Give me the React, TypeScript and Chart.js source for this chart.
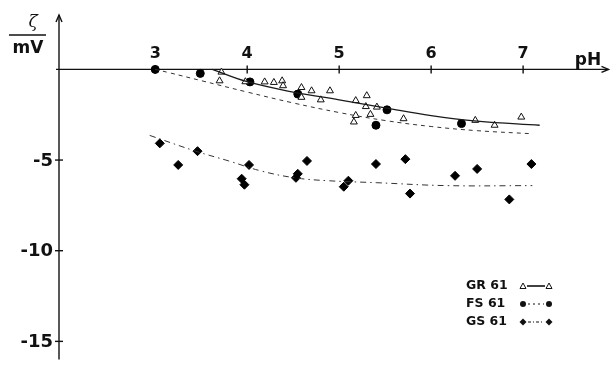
import { useEffect, useRef } from "react";
import { Chart, registerables } from "chart.js";

Chart.register(...registerables);

// GR 61 (open triangles)
const grPH = [3.72, 3.70, 3.98, 4.19, 4.29, 4.38, 4.39, 4.59, 4.59, 4.70, 4.80, 4.90, 5.18, 5.30, 5.29, 5.41, 5.34, 5.18, 5.16, 5.70, 6.48, 6.69, 6.98];
const grZeta = [-0.15, -0.63, -0.68, -0.69, -0.72, -0.63, -0.90, -1.00, -1.54, -1.18, -1.68, -1.18, -1.72, -1.45, -2.05, -2.08, -2.48, -2.54, -2.90, -2.72, -2.81, -3.08, -2.63];
const grCurvePH = [3.62, 4.0, 4.5, 5.0, 5.5, 6.0, 6.5, 7.18];
const grCurveZeta = [0, -0.68, -1.25, -1.68, -2.12, -2.55, -2.85, -3.08];

// FS 61 (filled circles)
const fsPH = [3.0, 3.49, 4.03, 4.55, 5.52, 5.40, 6.33];
const fsZeta = [0, -0.22, -0.69, -1.36, -2.23, -3.08, -2.99];
const fsCurvePH = [3.0, 3.15, 3.5, 4.0, 4.5, 5.0, 5.5, 6.0, 6.5, 7.1];
const fsCurveZeta = [0, -0.18, -0.62, -1.25, -1.85, -2.38, -2.82, -3.15, -3.38, -3.55];

// GS 61 (filled diamonds)
const gsPH = [3.05, 3.25, 3.46, 3.94, 3.97, 4.02, 4.53, 4.55, 4.65, 5.05, 5.10, 5.40, 5.72, 5.77, 6.26, 6.50, 6.85, 7.09];
const gsZeta = [-4.08, -5.27, -4.51, -6.03, -6.36, -5.27, -5.98, -5.76, -5.05, -6.47, -6.14, -5.22, -4.95, -6.85, -5.87, -5.49, -7.17, -5.22];
const gsCurvePH = [2.94, 3.44, 3.8, 4.15, 4.52, 4.88, 5.41, 6.17, 7.1];
const gsCurveZeta = [-3.64, -4.51, -5.05, -5.6, -5.98, -6.14, -6.25, -6.41, -6.41];

const xTicks = [3, 4, 5, 6, 7];
const yTicks = [-5, -10, -15];
const legendLabels = ["GR 61", "FS 61", "GS 61"];

const pts = (xs: number[], ys: number[]) => xs.map((x, i) => ({ x, y: ys[i] }));

const INK = "#111";
const FONT = "'DejaVu Sans', 'Liberation Sans', Arial, sans-serif";

const axesPlugin = {
  id: "customAxes",
  beforeDatasetsDraw(chart: any) {
    const { ctx, scales } = chart;
    const xs = scales.x;
    const ys = scales.y;
    const x0 = xs.left;
    const y0 = ys.getPixelForValue(0);
    ctx.save();
    ctx.strokeStyle = INK;
    ctx.fillStyle = INK;
    ctx.lineWidth = 1.4;
    // y axis
    const yTop = ys.top;
    ctx.beginPath();
    ctx.moveTo(x0, ys.bottom);
    ctx.lineTo(x0, yTop);
    ctx.stroke();
    ctx.beginPath();
    ctx.moveTo(x0 - 3, yTop + 7);
    ctx.lineTo(x0, yTop);
    ctx.lineTo(x0 + 3, yTop + 7);
    ctx.stroke();
    // x axis
    const xRight = xs.right - 2;
    ctx.beginPath();
    ctx.moveTo(x0 - 3, y0);
    ctx.lineTo(xRight, y0);
    ctx.stroke();
    ctx.beginPath();
    ctx.moveTo(xRight - 7, y0 - 3);
    ctx.lineTo(xRight, y0);
    ctx.lineTo(xRight - 7, y0 + 3);
    ctx.stroke();
    // ticks
    xTicks.forEach((t) => {
      const px = xs.getPixelForValue(t);
      ctx.beginPath();
      ctx.moveTo(px, y0 - 4);
      ctx.lineTo(px, y0 + 4);
      ctx.stroke();
    });
    yTicks.forEach((t) => {
      const py = ys.getPixelForValue(t);
      ctx.beginPath();
      ctx.moveTo(x0 - 4, py);
      ctx.lineTo(x0 + 4, py);
      ctx.stroke();
    });
    ctx.restore();
  },
  afterDraw(chart: any) {
    const { ctx, scales } = chart;
    const xs = scales.x;
    const ys = scales.y;
    const x0 = xs.left;
    const y0 = ys.getPixelForValue(0);
    ctx.save();
    ctx.fillStyle = INK;
    ctx.strokeStyle = INK;
    // x tick labels
    ctx.font = `bold 16px ${FONT}`;
    ctx.textAlign = "center";
    ctx.textBaseline = "alphabetic";
    xTicks.forEach((t) => {
      ctx.fillText(String(t), xs.getPixelForValue(t), y0 - 11);
    });
    // pH
    ctx.font = `bold 17px ${FONT}`;
    ctx.textAlign = "center";
    ctx.fillText("pH", 588, y0 - 4);
    // y tick labels
    ctx.font = `bold 18px ${FONT}`;
    ctx.textAlign = "right";
    ctx.textBaseline = "middle";
    yTicks.forEach((t) => {
      ctx.fillText("-" + String(Math.abs(t)), x0 - 6, ys.getPixelForValue(t) + 1);
    });
    // axis title zeta / mV
    ctx.font = `italic 17px 'DejaVu Serif', serif`;
    ctx.textAlign = "center";
    ctx.textBaseline = "alphabetic";
    ctx.fillText("ζ", 33, 27);
    ctx.lineWidth = 1.4;
    ctx.beginPath();
    ctx.moveTo(9, 35);
    ctx.lineTo(46, 35);
    ctx.stroke();
    ctx.font = `bold 17px ${FONT}`;
    ctx.fillText("mV", 28, 53);
    // legend
    const ly = [286, 304, 322];
    ctx.font = `bold 12.5px ${FONT}`;
    ctx.textAlign = "left";
    ctx.textBaseline = "middle";
    legendLabels.forEach((lab, i) => {
      ctx.fillText(lab, 466, ly[i]);
    });
    const lx1 = 523;
    const lx2 = 549;
    // GR
    ctx.setLineDash([]);
    ctx.beginPath();
    ctx.moveTo(lx1 + 4, ly[0]);
    ctx.lineTo(lx2 - 4, ly[0]);
    ctx.lineWidth = 1.6;
    ctx.stroke();
    ctx.lineWidth = 1;
    [lx1, lx2].forEach((cx) => {
      ctx.beginPath();
      ctx.moveTo(cx - 3, ly[0] + 2.5);
      ctx.lineTo(cx + 3, ly[0] + 2.5);
      ctx.lineTo(cx, ly[0] - 3);
      ctx.closePath();
      ctx.fillStyle = "#fff";
      ctx.fill();
      ctx.stroke();
    });
    ctx.fillStyle = INK;
    // FS
    ctx.setLineDash([2, 3]);
    ctx.beginPath();
    ctx.moveTo(lx1 + 5, ly[1]);
    ctx.lineTo(lx2 - 5, ly[1]);
    ctx.stroke();
    ctx.setLineDash([]);
    [lx1, lx2].forEach((cx) => {
      ctx.beginPath();
      ctx.arc(cx, ly[1], 3, 0, Math.PI * 2);
      ctx.fill();
    });
    // GS
    ctx.setLineDash([3, 2, 1, 2]);
    ctx.beginPath();
    ctx.moveTo(lx1 + 5, ly[2]);
    ctx.lineTo(lx2 - 5, ly[2]);
    ctx.stroke();
    ctx.setLineDash([]);
    [lx1, lx2].forEach((cx) => {
      ctx.beginPath();
      ctx.moveTo(cx, ly[2] - 3.5);
      ctx.lineTo(cx + 3.5, ly[2]);
      ctx.lineTo(cx, ly[2] + 3.5);
      ctx.lineTo(cx - 3.5, ly[2]);
      ctx.closePath();
      ctx.fill();
    });
    ctx.restore();
  },
};

export default function App() {
  const ref = useRef<HTMLCanvasElement | null>(null);
  useEffect(() => {
    if (!ref.current) return;
    const chart = new Chart(ref.current, {
      type: "scatter",
      data: {
        datasets: [
          {
            label: "GR curve",
            data: pts(grCurvePH, grCurveZeta),
            showLine: true,
            borderColor: "#1a1a1a",
            borderWidth: 1.3,
            pointRadius: 0,
            tension: 0.4,
            clip: false,
          } as any,
          {
            label: "FS curve",
            data: pts(fsCurvePH, fsCurveZeta),
            showLine: true,
            borderColor: "#333",
            borderWidth: 1,
            borderDash: [4, 4],
            pointRadius: 0,
            tension: 0.4,
            clip: false,
          } as any,
          {
            label: "GS curve",
            data: pts(gsCurvePH, gsCurveZeta),
            showLine: true,
            borderColor: "#333",
            borderWidth: 1,
            borderDash: [6, 4, 1.5, 4],
            pointRadius: 0,
            tension: 0.4,
            clip: false,
          } as any,
          {
            label: "GR 61",
            data: pts(grPH, grZeta),
            pointStyle: "triangle",
            pointRadius: 4,
            backgroundColor: "#fff",
            borderColor: "#111",
            borderWidth: 1,
            clip: false,
          } as any,
          {
            label: "FS 61",
            data: pts(fsPH, fsZeta),
            pointStyle: "circle",
            pointRadius: 4,
            backgroundColor: "#000",
            borderColor: "#000",
            borderWidth: 1,
            clip: false,
          } as any,
          {
            label: "GS 61",
            data: pts(gsPH, gsZeta),
            pointStyle: "rectRot",
            pointRadius: 4.5,
            backgroundColor: "#000",
            borderColor: "#000",
            borderWidth: 1,
            clip: false,
          } as any,
        ],
      },
      options: {
        animation: false,
        responsive: false,
        devicePixelRatio: 1,
        layout: { padding: { left: 59, right: 1, top: 15, bottom: 1 } },
        plugins: { legend: { display: false }, tooltip: { enabled: false } },
        scales: {
          x: { type: "linear", min: 1.954, max: 7.95, display: false },
          y: { type: "linear", min: -16, max: 3, display: false },
        },
      },
      plugins: [axesPlugin],
    });
    return () => chart.destroy();
  }, []);
  return (
    <canvas
      ref={ref}
      width={616}
      height={365}
      style={{ position: "fixed", left: 0, top: 0, width: 616, height: 365, background: "#fff" }}
    />
  );
}
